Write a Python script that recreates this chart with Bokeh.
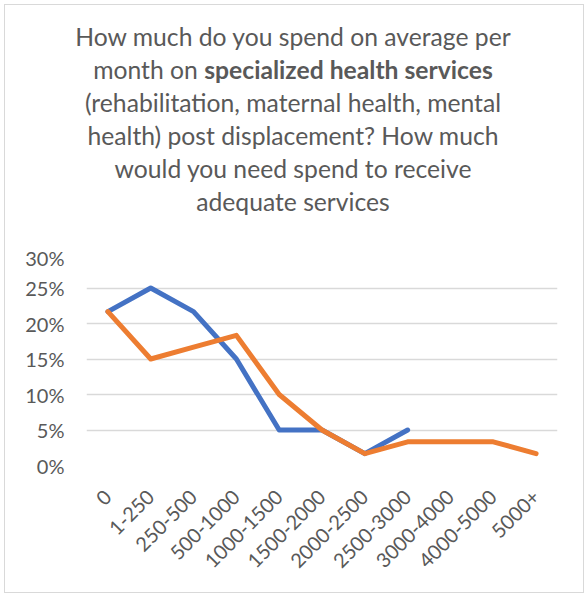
import math
from bokeh.plotting import figure
from bokeh.layouts import column
from bokeh.models import FixedTicker, NumeralTickFormatter, FactorRange, Range1d, Div
from bokeh.embed import file_html
from bokeh.resources import INLINE

categories = ["0", "1-250", "250-500", "500-1000", "1000-1500", "1500-2000",
              "2000-2500", "2500-3000", "3000-4000", "4000-5000", "5000+"]
spend_now = [0.2167, 0.25, 0.2167, 0.15, 0.05, 0.05, 0.0167, 0.05]
spend_needed = [0.2167, 0.15, 0.1667, 0.1833, 0.10, 0.05, 0.0167, 0.0333, 0.0333, 0.0333, 0.0167]
y_ticks = [0, 0.05, 0.10, 0.15, 0.20, 0.25, 0.30]

title_html = ("How much do you spend on average per<br>"
              "month on <b>specialized health services</b><br>"
              "(rehabilitation, maternal health, mental<br>"
              "health) post displacement? How much<br>"
              "would you need spend to receive<br>"
              "adequate services")

W, H = 578, 587                        # inner size of the bordered chart box
OFF = 5                                # page offset of the box content (margin 4 + border 1)
TH = 240                               # height of the title panel
FL, FR, FT, FB = 86 - OFF, 557 - OFF, 252 - OFF, 465 - OFF   # chart frame edges
FONT = "Lato"
GREY = "#595959"

title = Div(text=('<div style="font-family:Lato;font-size:24.7px;line-height:33px;'
                  'color:#595959;text-align:center;white-space:nowrap;'
                  'padding-top:15px;width:576px;">'
                  + title_html + '</div>'),
            width=W, height=TH, margin=0)

# ---- chart panel
p = figure(width=W, height=H - TH, x_range=FactorRange(*categories), y_range=Range1d(0, 0.30),
           output_backend="svg", toolbar_location=None, margin=0,
           min_border_left=FL, min_border_right=W - FR,
           min_border_top=FT - TH, min_border_bottom=H - FB)
p.outline_line_color = None
p.background_fill_color = "white"
p.border_fill_color = "white"

p.line(categories[:len(spend_now)], spend_now, line_color="#4472C4", line_width=5,
       line_cap="round", line_join="round")
p.line(categories, spend_needed, line_color="#ED7D31", line_width=5,
       line_cap="round", line_join="round")

p.xgrid.grid_line_color = None
p.ygrid.grid_line_color = "#d9d9d9"
p.ygrid.grid_line_width = 1.3
p.yaxis.ticker = FixedTicker(ticks=y_ticks)
p.yaxis.formatter = NumeralTickFormatter(format="0%")
for ax in (p.xaxis[0], p.yaxis[0]):
    ax.axis_line_color = None
    ax.major_tick_line_color = None
    ax.minor_tick_line_color = None
    ax.major_tick_out = 0
    ax.major_tick_in = 0
    ax.major_label_text_font = FONT
    ax.major_label_text_font_size = "20px"
    ax.major_label_text_color = GREY
p.yaxis.major_label_standoff = 22
p.xaxis.major_label_standoff = 28
p.xaxis.major_label_orientation = math.pi / 4

layout = column(title, p, spacing=0, margin=(4, 0, 0, 4))
layout.styles = {"border": "1px solid #d9d9d9", "background-color": "white"}

open("out.html", "w").write(file_html(layout, INLINE))
